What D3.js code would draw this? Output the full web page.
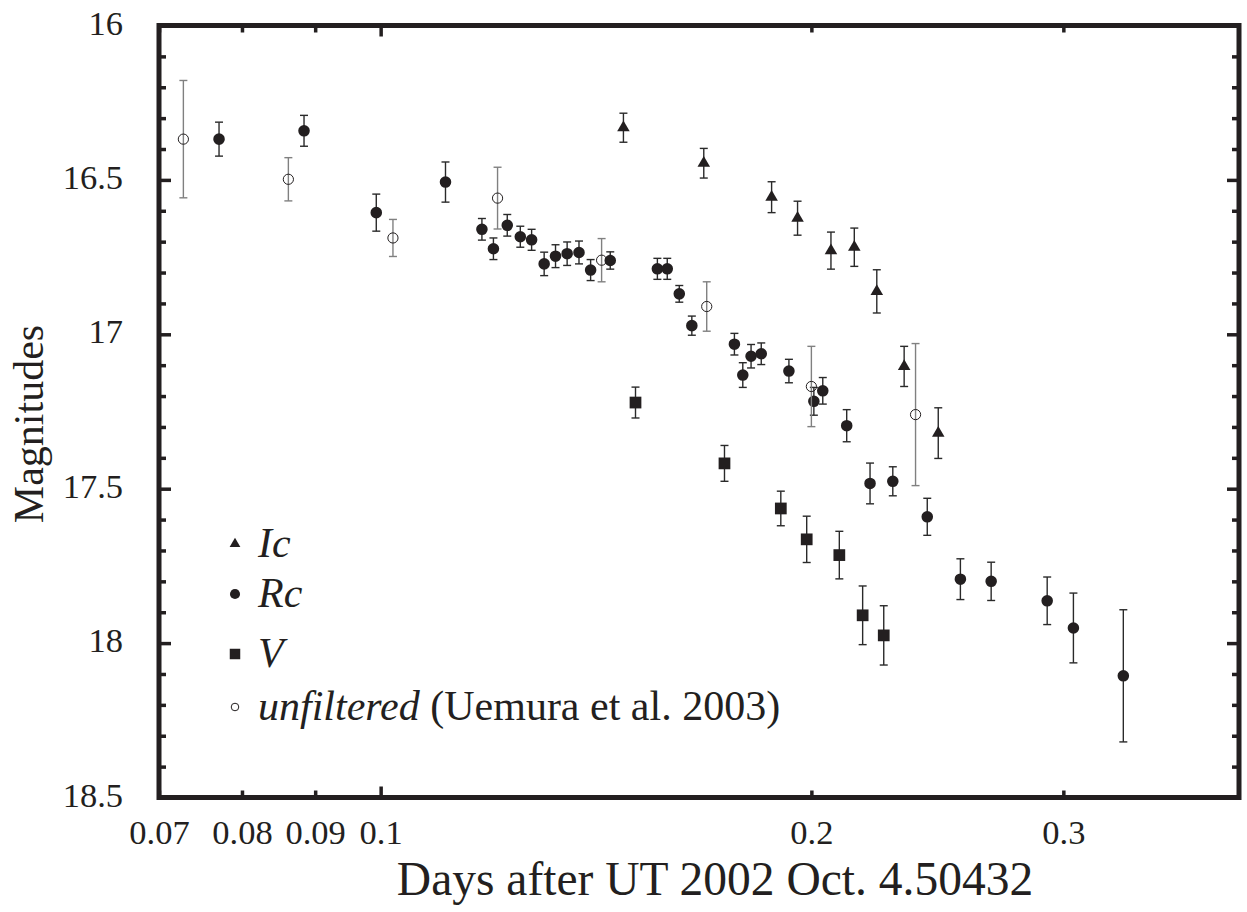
<!DOCTYPE html>
<html>
<head>
<meta charset="utf-8">
<script src="https://cdn.jsdelivr.net/npm/d3@7"></script>
<style>
  body { margin: 0; background: #fff; }
  svg { display: block; font-family: "Liberation Serif", "Times New Roman", serif; }
</style>
</head>
<body>
<svg id="chart" width="1247" height="912"></svg>
<script>
// Ic band (triangles)
var icDays = [0.1478, 0.1682, 0.1876, 0.1956, 0.2064, 0.2143, 0.2222, 0.2322, 0.2453]
var icMag  = [16.331, 16.446, 16.556, 16.624, 16.729, 16.718, 16.861, 17.104, 17.320]
var icErr  = [0.047, 0.048, 0.050, 0.055, 0.060, 0.062, 0.070, 0.065, 0.082]

// Rc band (filled circles)
var rcDays = [0.0771, 0.0884, 0.0993, 0.1110, 0.1177, 0.1199, 0.1226, 0.1252, 0.1275, 0.1301,
              0.1325, 0.1350, 0.1376, 0.1402, 0.1447, 0.1561, 0.1586, 0.1617, 0.1650, 0.1767,
              0.1791, 0.1815, 0.1845, 0.1929, 0.2008, 0.2037, 0.2117, 0.2198, 0.2280, 0.2410,
              0.2542, 0.2671, 0.2923, 0.3049, 0.3304]
var rcMag  = [16.368, 16.341, 16.606, 16.507, 16.660, 16.723, 16.647, 16.684, 16.694, 16.772,
              16.747, 16.739, 16.735, 16.792, 16.761, 16.788, 16.788, 16.869, 16.972, 17.032,
              17.132, 17.071, 17.063, 17.119, 17.217, 17.183, 17.296, 17.483, 17.476, 17.591,
              17.793, 17.800, 17.863, 17.951, 18.106]
var rcErr  = [0.055, 0.050, 0.060, 0.065, 0.035, 0.035, 0.035, 0.034, 0.034, 0.038,
              0.037, 0.038, 0.037, 0.034, 0.028, 0.034, 0.034, 0.027, 0.031, 0.035,
              0.040, 0.038, 0.035, 0.038, 0.045, 0.043, 0.052, 0.066, 0.047, 0.060,
              0.066, 0.062, 0.077, 0.113, 0.214]

// V band (squares)
var vDays = [0.1507, 0.1739, 0.1904, 0.1985, 0.2092, 0.2172, 0.2247]
var vMag  = [17.221, 17.418, 17.564, 17.664, 17.715, 17.910, 17.975]
var vErr  = [0.050, 0.058, 0.056, 0.075, 0.077, 0.095, 0.096]

// unfiltered (open circles, Uemura et al. 2003)
var unfDays = [0.0728, 0.0862, 0.1020, 0.1207, 0.1427, 0.1690, 0.2000, 0.2365]
var unfMag  = [16.368, 16.498, 16.688, 16.559, 16.760, 16.910, 17.169, 17.260]
var unfErr  = [0.190, 0.070, 0.060, 0.100, 0.070, 0.080, 0.130, 0.230]

var xTicks = [0.07, 0.08, 0.09, 0.1, 0.2, 0.3]
var yTicks = [16, 16.5, 17, 17.5, 18, 18.5]
var yMinor = [16.1, 16.2, 16.3, 16.4, 16.6, 16.7, 16.8, 16.9, 17.1, 17.2, 17.3, 17.4,
              17.6, 17.7, 17.8, 17.9, 18.1, 18.2, 18.3, 18.4]
var legendNames = ["Ic", "Rc", "V", "unfiltered"]
var legendNote = " (Uemura et al. 2003)"

var ink = "#231f20"
var serif = "'Liberation Serif', 'Times New Roman', serif"
var svg = d3.select("#chart")
var pL = 159, pR = 1239, pT = 25.5, pB = 797.5

var x = d3.scaleLog().domain([0.07, 0.398]).range([pL, pR])
var y = d3.scaleLinear().domain([16, 18.5]).range([pT, pB])

function zip(days, mag, err) {
  return days.map(function(d, i) { return {t: d, m: mag[i], e: err[i]} })
}
var series = [
  {name: "Ic", pts: zip(icDays, icMag, icErr), shape: d3.symbolTriangle, size: 68, fill: ink, bar: "#2a2a2a"},
  {name: "Rc", pts: zip(rcDays, rcMag, rcErr), shape: d3.symbolCircle, size: 105, fill: ink, bar: "#2a2a2a"},
  {name: "V", pts: zip(vDays, vMag, vErr), shape: d3.symbolSquare, size: 138, fill: ink, bar: "#2a2a2a"},
  {name: "unfiltered", pts: zip(unfDays, unfMag, unfErr), shape: d3.symbolCircle, size: 82, fill: "none", bar: "#808080"}
]

// axes: ticks point inward, frame drawn separately
function styleAxis(g) {
  g.attr("font-family", serif).attr("font-size", 34.5)
  g.select(".domain").remove()
  g.selectAll(".tick line").attr("stroke", ink).attr("stroke-width", 3.5)
  g.selectAll(".tick text").attr("fill", ink)
}
var bx = svg.append("g").attr("transform", "translate(0," + pB + ")")
  .call(d3.axisBottom(x).tickValues(xTicks).tickFormat(function(d) { return d }).tickSizeInner(-7).tickSizeOuter(0).tickPadding(22))
  .call(styleAxis)
bx.selectAll(".tick line").attr("y2", function(d) { return d === 0.1 ? -11 : -7 })
var tx = svg.append("g").attr("transform", "translate(0," + pT + ")")
  .call(d3.axisTop(x).tickValues(xTicks).tickFormat("").tickSizeInner(-7).tickSizeOuter(0))
  .call(styleAxis)
tx.selectAll(".tick line").attr("y2", function(d) { return d === 0.1 ? 11 : 7 })

var ly = svg.append("g").attr("transform", "translate(" + pL + ",0)")
  .call(d3.axisLeft(y).tickValues(yTicks).tickFormat(function(d) { return d }).tickSizeInner(-12).tickSizeOuter(0).tickPadding(36))
  .call(styleAxis)
ly.selectAll(".tick text").attr("dy", "0.25em")
svg.append("g").attr("transform", "translate(" + pL + ",0)")
  .call(d3.axisLeft(y).tickValues(yMinor).tickFormat("").tickSizeInner(-7).tickSizeOuter(0))
  .call(styleAxis)
svg.append("g").attr("transform", "translate(" + pR + ",0)")
  .call(d3.axisRight(y).tickValues(yTicks).tickFormat("").tickSizeInner(-12).tickSizeOuter(0))
  .call(styleAxis)
svg.append("g").attr("transform", "translate(" + pR + ",0)")
  .call(d3.axisRight(y).tickValues(yMinor).tickFormat("").tickSizeInner(-7).tickSizeOuter(0))
  .call(styleAxis)

svg.append("rect").attr("x", pL).attr("y", pT)
  .attr("width", pR - pL).attr("height", pB - pT)
  .attr("fill", "none").attr("stroke", ink).attr("stroke-width", 5)

// error bars + markers
series.forEach(function(s) {
  var g = svg.append("g")
  var eb = g.selectAll("g.eb").data(s.pts).enter().append("g")
    .attr("stroke", s.bar).attr("stroke-width", 1.4)
  eb.append("line")
    .attr("x1", function(d) { return x(d.t) }).attr("x2", function(d) { return x(d.t) })
    .attr("y1", function(d) { return y(d.m - d.e) }).attr("y2", function(d) { return y(d.m + d.e) })
  eb.append("line")
    .attr("x1", function(d) { return x(d.t) - 4 }).attr("x2", function(d) { return x(d.t) + 4 })
    .attr("y1", function(d) { return y(d.m - d.e) }).attr("y2", function(d) { return y(d.m - d.e) })
  eb.append("line")
    .attr("x1", function(d) { return x(d.t) - 4 }).attr("x2", function(d) { return x(d.t) + 4 })
    .attr("y1", function(d) { return y(d.m + d.e) }).attr("y2", function(d) { return y(d.m + d.e) })
  g.selectAll("path").data(s.pts).enter().append("path")
    .attr("d", d3.symbol().type(s.shape).size(s.size))
    .attr("transform", function(d) { return "translate(" + x(d.t) + "," + y(d.m) + ")" })
    .attr("fill", s.fill)
    .attr("stroke", s.fill === "none" ? ink : "none").attr("stroke-width", 1)
})

// legend
var legSizes = [50, 80, 110, 45]
var legY = [544, 594, 654, 707]
var leg = svg.append("g")
series.forEach(function(s, i) {
  leg.append("path")
    .attr("d", d3.symbol().type(s.shape).size(legSizes[i]))
    .attr("transform", "translate(235," + legY[i] + ")")
    .attr("fill", s.fill).attr("stroke", s.fill === "none" ? ink : "none").attr("stroke-width", 1)
  var t = leg.append("text").attr("x", 258).attr("y", legY[i] + 13)
    .attr("font-size", 42).attr("fill", ink)
  t.append("tspan").attr("font-style", "italic").text(legendNames[i])
  if (i === 3) t.append("tspan").text(legendNote)
})

// axis titles
svg.append("text").attr("x", 715).attr("y", 895).attr("text-anchor", "middle")
  .attr("font-size", 47.5).attr("fill", ink).text("Days after UT 2002 Oct. 4.50432")
svg.append("text").attr("transform", "translate(43,424) rotate(-90)").attr("text-anchor", "middle")
  .attr("font-size", 42).attr("fill", ink).text("Magnitudes")
</script>
</body>
</html>
